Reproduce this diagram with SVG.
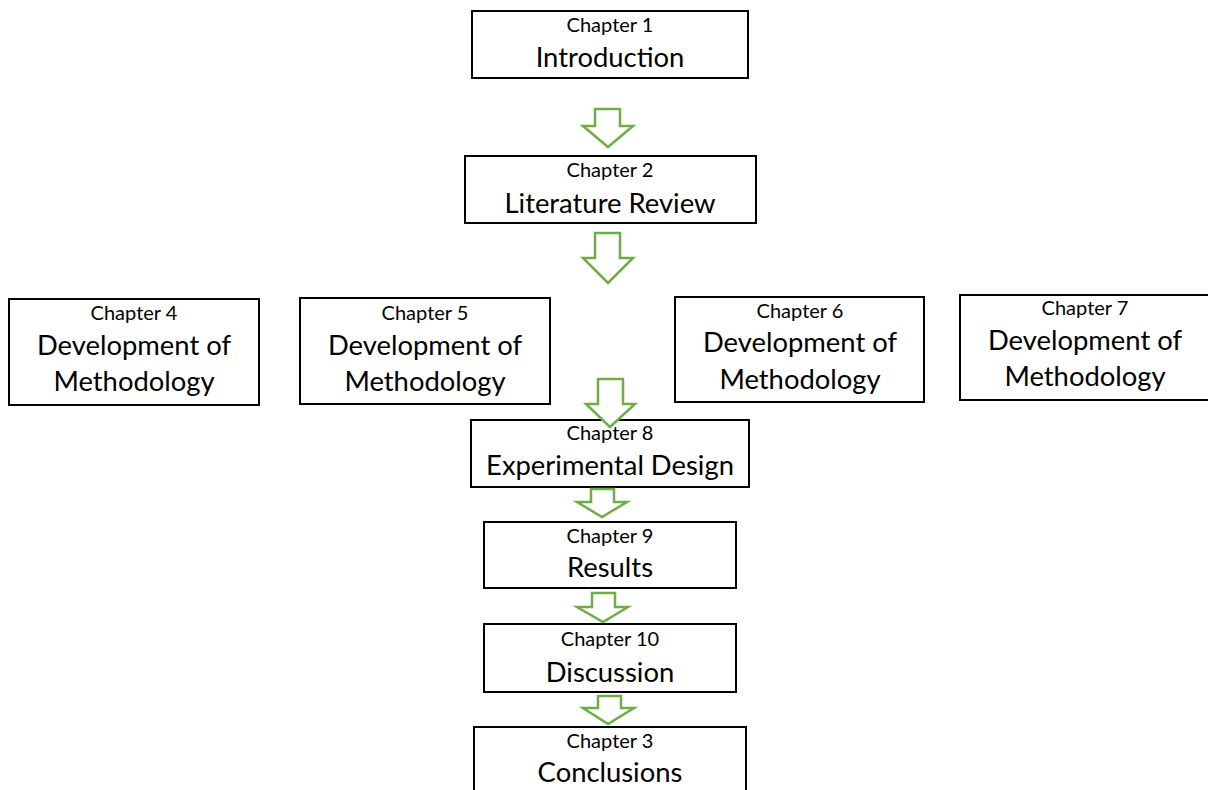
<svg xmlns="http://www.w3.org/2000/svg" width="1208" height="790" viewBox="0 0 1208 790">
  <style>
    .box { fill: #ffffff; stroke: #000000; stroke-width: 2; }
    .sub { font-family: Lato, "Open Sans", sans-serif; font-size: 20px; fill: #000000; text-anchor: middle; }
    .main { font-family: Lato, "Open Sans", sans-serif; font-size: 27.4px; fill: #000000; text-anchor: middle; }
    .arrow { fill: #ffffff; stroke: #70AD47; stroke-width: 2.5; stroke-linejoin: miter; }
  </style>
  <rect width="1208" height="790" fill="#ffffff"/>

  <g id="ch1">
    <rect class="box" x="472" y="11" width="276" height="67"/>
    <text class="sub" x="610" y="32">Chapter 1</text>
    <text class="main" x="610" y="67">Introduction</text>
  </g>
  <g id="ch2">
    <rect class="box" x="465" y="156" width="291" height="67"/>
    <text class="sub" x="610" y="177">Chapter 2</text>
    <text class="main" x="610" y="213">Literature Review</text>
  </g>
  <g id="ch4">
    <rect class="box" x="9" y="299" width="250" height="106"/>
    <text class="sub" x="134" y="320">Chapter 4</text>
    <text class="main" x="134" y="355">Development of</text>
    <text class="main" x="134" y="391">Methodology</text>
  </g>
  <g id="ch5">
    <rect class="box" x="300" y="298" width="250" height="106"/>
    <text class="sub" x="425" y="320">Chapter 5</text>
    <text class="main" x="425" y="355">Development of</text>
    <text class="main" x="425" y="391">Methodology</text>
  </g>
  <g id="ch6">
    <rect class="box" x="675" y="297" width="249" height="105"/>
    <text class="sub" x="800" y="318">Chapter 6</text>
    <text class="main" x="800" y="352">Development of</text>
    <text class="main" x="800" y="389">Methodology</text>
  </g>
  <g id="ch7">
    <rect class="box" x="960" y="295" width="250" height="105"/>
    <text class="sub" x="1085" y="315">Chapter 7</text>
    <text class="main" x="1085" y="350">Development of</text>
    <text class="main" x="1085" y="386">Methodology</text>
  </g>
  <g id="ch8">
    <rect class="box" x="471" y="420" width="278" height="67"/>
    <text class="sub" x="610" y="440">Chapter 8</text>
    <text class="main" x="610" y="475">Experimental Design</text>
  </g>
  <g id="ch9">
    <rect class="box" x="484" y="522" width="252" height="66"/>
    <text class="sub" x="610" y="543">Chapter 9</text>
    <text class="main" x="610" y="577">Results</text>
  </g>
  <g id="ch10">
    <rect class="box" x="484" y="624" width="252" height="68"/>
    <text class="sub" x="610" y="646">Chapter 10</text>
    <text class="main" x="610" y="682">Discussion</text>
  </g>
  <g id="ch3">
    <rect class="box" x="474" y="727" width="272" height="80"/>
    <text class="sub" x="610" y="748">Chapter 3</text>
    <text class="main" x="610" y="782">Conclusions</text>
  </g>

  <!-- block arrows between chapters -->
  <g id="connectors">
    <polygon class="arrow" points="595,109 620,109 620,126 633,126 608,147 583,126 595,126"/>
    <polygon class="arrow" points="595,233 620,233 620,258 633,258 608,283 583,258 595,258"/>
    <polygon class="arrow" points="598,379 623,379 623,404 635,404 610,427 586,404 598,404"/>
    <polygon class="arrow" points="591,489 614,489 614,502 627,502 602,517 577,502 591,502"/>
    <polygon class="arrow" points="592,593 615,593 615,607 628,607 603,622 577,607 592,607"/>
    <polygon class="arrow" points="598,696 621,696 621,708 634,708 608,724 583,708 598,708"/>
  </g>
</svg>
